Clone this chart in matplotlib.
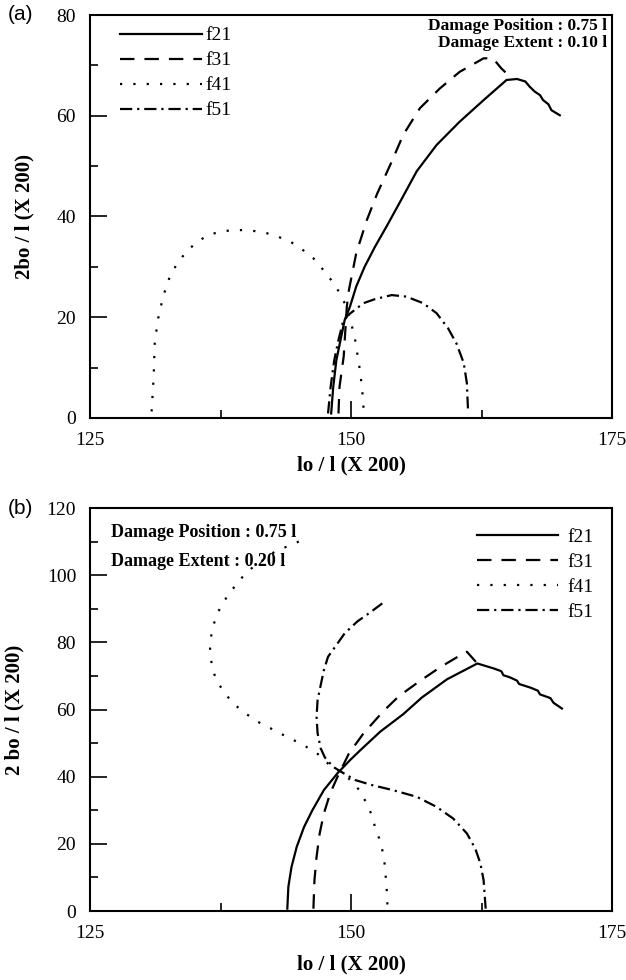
import numpy as np
import matplotlib.pyplot as plt
from matplotlib.ticker import MultipleLocator

plt.rcParams['font.family'] = 'Liberation Serif'
plt.rcParams['font.size'] = 13

# ---- panel (a): damage position 0.75 l, extent 0.10 l ----
a_f21_x = [148.1, 148.3, 148.6, 149.0, 149.4, 149.9, 150.5, 151.3, 152.3, 153.4, 154.7, 156.3, 158.2, 160.4,
           162.7, 164.9, 165.9, 166.7, 167.1, 167.6, 168.1, 168.4, 168.9, 169.2, 170.0]
a_f21_y = [0.9, 6.2, 11.5, 15.5, 19.5, 22.1, 26.1, 30.0, 34.0, 38.0, 42.9, 49.0, 54.2, 58.8,
           63.1, 67.1, 67.3, 66.8, 65.8, 64.8, 64.1, 63.1, 62.3, 61.1, 60.1]
a_f31_x = [148.8, 148.9, 149.3, 149.6, 149.8, 150.5, 151.5, 152.5, 153.9, 155.0, 156.6, 158.5, 160.4, 162.7,
           163.6, 164.4, 165.4]
a_f31_y = [0.9, 6.2, 12.2, 22.1, 25.4, 32.7, 39.2, 44.5, 50.9, 56.2, 61.5, 65.4, 68.7, 71.4,
           71.4, 69.4, 67.4]
a_f41_x = [130.9, 131.1, 131.2, 131.5, 132.0, 132.7, 133.4, 134.3, 135.3, 136.3, 137.5, 138.7, 139.8, 140.8,
           141.9, 143.0, 144.2, 145.3, 146.4, 147.3, 148.1, 148.8, 149.4, 149.8, 150.1, 150.4, 150.7, 150.9,
           151.1, 151.2]
a_f41_y = [1.3, 8.2, 14.8, 19.5, 24.1, 28.4, 30.8, 33.2, 35.0, 36.3, 37.0, 37.3, 37.3, 37.1,
           36.7, 36.0, 35.0, 33.5, 31.7, 29.5, 27.4, 25.2, 22.8, 20.5, 18.1, 15.5, 11.5, 8.9,
           4.9, 1.9]
a_f51_x = [147.8, 148.05, 148.4, 148.8, 149.2, 149.7, 151.2, 152.3, 153.9, 155.3, 156.9, 158.2, 159.3, 160.1,
           160.8, 161.1, 161.2]
a_f51_y = [0.9, 6.2, 11.5, 15.5, 18.8, 20.4, 22.8, 23.6, 24.4, 24.1, 22.8, 20.8, 17.8, 14.8,
           10.9, 6.9, 1.9]

# ---- panel (b): damage position 0.75 l, extent 0.20 l ----
b_f21_x = [143.9, 144.0, 144.3, 144.8, 145.5, 146.3, 147.4, 148.7, 149.9, 150.9, 152.8, 155.0, 156.8, 159.2,
           162.1, 163.7, 164.4, 164.6, 165.2, 165.9, 166.1, 167.2, 167.9, 168.1, 169.1, 169.4, 170.2]
b_f21_y = [0.7, 7.2, 13.1, 19.1, 25.0, 30.0, 36.0, 41.0, 44.9, 47.9, 53.4, 58.6, 63.6, 69.0,
           73.7, 72.2, 71.4, 70.2, 69.6, 68.6, 67.6, 66.5, 65.6, 64.5, 63.4, 62.0, 60.3]
b_f31_x = [146.4, 146.5, 146.7, 147.0, 147.4, 148.0, 148.7, 149.8, 151.2, 153.1, 154.6, 156.6, 158.6, 160.5,
           161.1, 162.1]
b_f31_y = [0.7, 9.2, 16.1, 23.1, 29.0, 35.0, 39.9, 46.9, 52.9, 59.5, 64.0, 68.5, 72.7, 76.2,
           77.2, 73.7]
b_f41_x = [145.0, 142.7, 140.5, 139.4, 138.6, 137.8, 137.2, 136.8, 136.6, 136.5, 136.6, 136.8, 137.3, 137.9,
           138.9, 140.0, 141.1, 142.3, 143.4, 144.5, 145.6, 146.7, 147.8, 149.0, 150.2, 150.9, 151.5, 152.0,
           152.3, 152.7, 153.0, 153.2, 153.3, 153.4, 153.5]
b_f41_y = [110.0, 107.0, 102.1, 98.8, 95.6, 92.1, 88.6, 84.9, 81.7, 78.2, 74.7, 71.2, 67.8, 64.8,
           61.3, 58.6, 56.3, 54.4, 52.6, 50.9, 49.1, 47.1, 43.9, 41.4, 38.4, 35.5, 32.0, 28.5,
           25.0, 21.6, 18.1, 14.6, 11.1, 7.7, 1.2]
b_f51_x = [153.0, 151.7, 150.6, 149.4, 148.6, 147.8, 147.4, 147.1, 146.8, 146.7, 146.8, 147.1, 147.5, 148.3,
           149.3, 150.4, 152.0, 154.0, 156.3, 158.2, 159.8, 161.1, 161.9, 162.4, 162.7, 162.9]
b_f51_y = [91.6, 88.6, 86.2, 82.7, 79.2, 75.7, 71.7, 67.3, 62.8, 57.8, 52.9, 48.4, 45.7, 42.9,
           41.0, 39.0, 37.5, 36.0, 34.0, 31.0, 27.5, 23.1, 18.6, 14.1, 9.2, 0.7]

labels = ['f21', 'f31', 'f41', 'f51']
styles = ['-', (0, (6.5, 4.5)), (0, (1, 5)), (0, (5.5, 2.2, 1, 2.2))]

fig = plt.figure(figsize=(6.26, 9.8), dpi=100)
ax1 = fig.add_axes([90 / 626, 1 - 418 / 980, 522 / 626, 403 / 980])
ax2 = fig.add_axes([90 / 626, 1 - 911 / 980, 522 / 626, 403 / 980])


def style_axis(ax, ymax, ylabel, xpad):
    ax.set_xlim(125, 175)
    ax.set_ylim(0, ymax)
    ax.xaxis.set_major_locator(MultipleLocator(25))
    ax.xaxis.set_minor_locator(MultipleLocator(12.5))
    ax.yaxis.set_major_locator(MultipleLocator(20))
    ax.yaxis.set_minor_locator(MultipleLocator(10))
    ax.tick_params(which='major', direction='in', length=12, width=1.2, labelsize=14, pad=10)
    ax.tick_params(which='minor', direction='in', length=6, width=1.2)
    for s in ax.spines.values():
        s.set_linewidth(1.5)
    ax.set_xlabel('lo / l (X 200)', fontsize=15, fontweight='bold', labelpad=xpad)
    ax.set_ylabel(ylabel, fontsize=15, fontweight='bold', labelpad=16)


data_a = [(a_f21_x, a_f21_y), (a_f31_x, a_f31_y), (a_f41_x, a_f41_y), (a_f51_x, a_f51_y)]
data_b = [(b_f21_x, b_f21_y), (b_f31_x, b_f31_y), (b_f41_x, b_f41_y), (b_f51_x, b_f51_y)]

for (x, y), ls, lab in zip(data_a, styles, labels):
    ax1.plot(x, y, color='black', linestyle=ls, linewidth=1.6, label=lab)
for (x, y), ls, lab in zip(data_b, styles, labels):
    ax2.plot(x, y, color='black', linestyle=ls, linewidth=1.6, label=lab)

style_axis(ax1, 80, '2bo / l (X 200)', 5)
style_axis(ax2, 120, '2 bo / l (X 200)', 9)

ax1.legend(loc='upper left', frameon=False, handlelength=4.2, handletextpad=0.2,
           labelspacing=0.38, fontsize=14, borderaxespad=0, borderpad=0,
           bbox_to_anchor=(0.0575, 0.9706))
ax2.legend(loc='upper left', frameon=False, handlelength=4.2, handletextpad=0.45,
           labelspacing=0.38, fontsize=14, borderaxespad=0, borderpad=0,
           bbox_to_anchor=(0.741, 0.950))

ax1.text(0.99, 1 - 11 / 403, 'Damage Position : 0.75 l', transform=ax1.transAxes,
         ha='right', va='center', fontsize=12.5, fontweight='bold')
ax1.text(0.99, 1 - 28 / 403, 'Damage Extent : 0.10 l', transform=ax1.transAxes,
         ha='right', va='center', fontsize=12.5, fontweight='bold')
ax2.text(0.0397, 0.938, 'Damage Position : 0.75 l', transform=ax2.transAxes,
         ha='left', va='center', fontsize=13, fontweight='bold')
ax2.text(0.0397, 0.868, 'Damage Extent : 0.20 l', transform=ax2.transAxes,
         ha='left', va='center', fontsize=13, fontweight='bold')

fig.text(0.012, 1 - 15 / 980, '(a)', fontsize=15, family='Liberation Sans', va='center')
fig.text(0.012, 1 - 508 / 980, '(b)', fontsize=15, family='Liberation Sans', va='center')

fig.savefig('out.png', dpi=100)
